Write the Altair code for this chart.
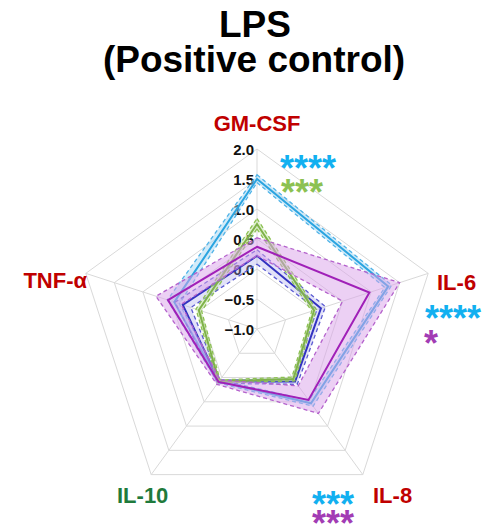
import altair as alt
import pandas as pd

# Cytokine axes, clockwise from the top
AXES = ["GM-CSF", "IL-6", "IL-8", "IL-10", "TNF-α"]

# Response per cytokine: mean line and lower / upper band limits
sky_mean = [1.50, 1.30, 0.53, 0.08, 0.45]
sky_lo = [1.44, 1.24, 0.47, 0.05, 0.36]
sky_hi = [1.57, 1.36, 0.59, 0.11, 0.57]

navy_mean = [0.22, 0.12, 0.08, 0.08, 0.30]
navy_lo = [0.08, 0.05, 0.03, 0.05, 0.16]
navy_hi = [0.32, 0.20, 0.14, 0.12, 0.44]

green_mean = [0.75, 0.00, 0.03, 0.08, 0.02]
green_lo = [0.67, -0.04, -0.01, 0.05, -0.03]
green_hi = [0.84, 0.04, 0.07, 0.11, 0.07]

purple_mean = [0.37, 0.97, 0.46, 0.09, 0.56]
purple_lo = [0.22, 0.50, 0.17, 0.05, 0.33]
purple_hi = [0.52, 1.50, 0.74, 0.14, 0.77]

# Radial scale
R_MIN = -1.0
RING_LEVELS = [-0.5, 0.0, 0.5, 1.0, 1.5, 2.0]
TICK_LEVELS = [-1.0, -0.5, 0.0, 0.5, 1.0, 1.5, 2.0]
TICK_LABELS = ["−1.0", "−0.5", "0.0", "0.5", "1.0", "1.5", "2.0"]

W, H = 484, 528
CX, CY = 257, 329          # centre of the web, pixels
PX_PER_UNIT = 60.0
N = len(AXES)
FONT = "Liberation Sans"

XS = alt.Scale(domain=[-CX / PX_PER_UNIT, (W - CX) / PX_PER_UNIT], nice=False, zero=False)
YS = alt.Scale(domain=[-(H - CY) / PX_PER_UNIT, CY / PX_PER_UNIT], nice=False, zero=False)

X_EXPR = f"(datum.v - ({R_MIN})) * sin(datum.k * 2 * PI / {N})"
Y_EXPR = f"(datum.v - ({R_MIN})) * cos(datum.k * 2 * PI / {N})"


def polar(chart):
    return chart.transform_calculate(px=X_EXPR, py=Y_EXPR)


def xy():
    return dict(
        x=alt.X("px:Q", scale=XS, axis=None),
        y=alt.Y("py:Q", scale=YS, axis=None),
    )


# ---- grid ----
ring_df = pd.DataFrame(
    [{"level": lv, "k": k, "v": lv} for lv in RING_LEVELS for k in range(N)]
)
rings = polar(alt.Chart(ring_df)).mark_line(
    interpolate="linear-closed", color="#d9d9d9", strokeWidth=1
).encode(**xy(), detail="level:N", order="k:Q")

spoke_df = pd.DataFrame({"k": list(range(N)), "v": [RING_LEVELS[-1]] * N})
spokes = polar(alt.Chart(spoke_df)).transform_calculate(x0="0", y0="0").mark_rule(
    color="#d9d9d9", strokeWidth=1
).encode(
    x=alt.X("x0:Q", scale=XS, axis=None),
    y=alt.Y("y0:Q", scale=YS, axis=None),
    x2="px:Q",
    y2="py:Q",
)

tick_df = pd.DataFrame({"v": TICK_LEVELS, "label": TICK_LABELS, "k": [0] * len(TICK_LEVELS)})
ticks = polar(alt.Chart(tick_df)).mark_text(
    align="right", baseline="middle", dx=-3, dy=1,
    font=FONT, fontSize=15, fontWeight="bold", color="#111111",
).encode(**xy(), text="label:N")


# ---- series ----
def series(mean, lo, hi, line_color, dash_color, fill_color, fill_opacity):
    # ring between the two band limits: outer loop, then inner loop reversed
    ring_rows = []
    seq = 0
    for k in list(range(N)) + [0]:
        ring_rows.append({"k": k, "v": hi[k], "seq": seq})
        seq += 1
    for k in [0] + list(range(N - 1, 0, -1)) + [0]:
        ring_rows.append({"k": k, "v": lo[k], "seq": seq})
        seq += 1
    band = polar(alt.Chart(pd.DataFrame(ring_rows))).mark_line(
        interpolate="linear-closed", fill=fill_color, fillOpacity=fill_opacity,
        strokeWidth=0,
    ).encode(**xy(), order="seq:Q")

    edge_df = pd.DataFrame(
        [{"k": k, "v": lo[k], "edge": "lo"} for k in range(N)]
        + [{"k": k, "v": hi[k], "edge": "hi"} for k in range(N)]
    )
    edges = polar(alt.Chart(edge_df)).mark_line(
        interpolate="linear-closed", color=dash_color, strokeWidth=1.3,
        strokeDash=[4, 3],
    ).encode(**xy(), detail="edge:N", order="k:Q")

    mean_df = pd.DataFrame({"k": list(range(N)), "v": mean})
    line = polar(alt.Chart(mean_df)).mark_line(
        interpolate="linear-closed", color=line_color, strokeWidth=2,
    ).encode(**xy(), order="k:Q")
    return [band, edges, line]


layers = [rings, spokes, ticks]
layers += series(sky_mean, sky_lo, sky_hi, "#2aa4e0", "#4fb3e8", "#a6d8f3", 0.5)
layers += series(navy_mean, navy_lo, navy_hi, "#3232c0", "#5a5ad2", "#a9a9ea", 0.35)
layers += series(green_mean, green_lo, green_hi, "#7fb24a", "#8cc152", "#c2e2a4", 0.5)
layers += series(purple_mean, purple_lo, purple_hi, "#a020b8", "#b462cc", "#d9a2ea", 0.5)


# ---- text ----
def note(text, x, y, size, color, align="left"):
    return alt.Chart(pd.DataFrame({"label": [text]})).mark_text(
        align=align, baseline="alphabetic", font=FONT, fontSize=size,
        fontWeight="bold", color=color,
    ).encode(text="label:N", x=alt.value(x), y=alt.value(y))


RED = "#c00000"
CYAN = "#12b0f0"
LIME = "#8cc152"
VIOLET = "#a23cb4"

layers += [
    note("LPS", 255, 37, 37, "#000000", "center"),
    note("(Positive control)", 254, 72, 37, "#000000", "center"),
    note(AXES[0], 257, 131, 22, RED, "center"),
    note(AXES[1], 437, 290, 22, RED),
    note(AXES[2], 373, 503, 22, RED),
    note(AXES[3], 117, 503, 22, "#1f7a3c"),
    note(AXES[4], 87, 288, 22, RED, "right"),
    note("****", 280, 181, 36, CYAN),
    note("***", 281, 205, 36, LIME),
    note("****", 425, 331, 36, CYAN),
    note("*", 424, 356, 36, VIOLET),
    note("***", 312, 517, 36, CYAN),
    note("***", 312, 536, 36, VIOLET),
]

chart = alt.layer(*layers).properties(
    width=W, height=H, padding=0, autosize="none", background="white"
).configure_view(stroke=None)

chart.save("out.html", embed_options={"renderer": "svg", "actions": False})
